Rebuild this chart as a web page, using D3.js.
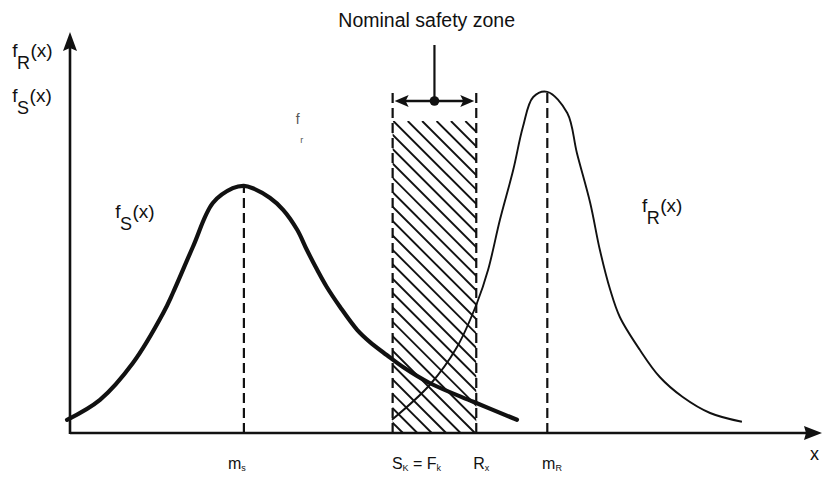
<!DOCTYPE html>
<html>
<head>
<meta charset="utf-8">
<script src="https://cdn.jsdelivr.net/npm/d3@7"></script>
<style>
  html, body { margin: 0; padding: 0; background: #fff; }
  svg { display: block; }
  text { font-family: "Liberation Sans", Arial, sans-serif; fill: #111; }
</style>
</head>
<body>
<div id="chart"></div>
<script>
// load (S) and resistance (R) densities
const loadCurve = [
  [-0.4, 0.033], [4.05, 0.083], [8.5, 0.175], [12.6, 0.30], [13.9, 0.35],
  [16.6, 0.465], [19.3, 0.575], [22.0, 0.612], [23.5, 0.618], [24.7, 0.612],
  [27.0, 0.588], [28.8, 0.558], [30.7, 0.508], [32.0, 0.458], [33.4, 0.408],
  [34.7, 0.365], [36.5, 0.315], [38.8, 0.258], [40.5, 0.228], [42.8, 0.195],
  [45.0, 0.165], [48.6, 0.125], [54.5, 0.078], [60.4, 0.033]
];
const resistCurve = [
  [43.5, 0.033], [48.6, 0.12], [52.3, 0.215], [55.0, 0.325], [56.5, 0.408],
  [58.1, 0.533], [59.9, 0.658], [61.2, 0.765], [62.6, 0.84], [64.5, 0.853],
  [67.2, 0.80], [68.5, 0.70], [70.3, 0.575], [71.6, 0.458], [73.0, 0.358],
  [74.3, 0.29], [77.0, 0.208], [79.7, 0.14], [82.8, 0.09], [86.5, 0.05],
  [90.8, 0.028]
];

// means and the nominal safety zone (Sk = Fk .. Rk)
const meanLines = [
  { x: 23.5, top: 0.62 },
  { x: 64.5, top: 0.855 }
];
const zoneEdges = [43.6, 54.9];
const zoneTop = 0.85;
const hatchTop = 0.78;
const zoneArrowY = 0.83;
const pointerTop = 0.97;

// labels: [main, subscript, tail]
const yAxisLabels = [
  { x: -7.8, y: 0.94, parts: ['f', 'R', '(x)'] },
  { x: -7.8, y: 0.8275, parts: ['f', 'S', '(x)'] }
];
const curveLabels = [
  { x: 6.1, y: 0.5375, parts: ['f', 'S', '(x)'] },
  { x: 77.3, y: 0.5525, parts: ['f', 'R', '(x)'] }
];
const xLabels = [
  { x: 21.35, parts: [['m', ''], ['s', 'sub']] },
  { x: 43.5, parts: [['S', ''], ['K', 'sub'], [' = F', ''], ['k', 'sub']] },
  { x: 54.5, parts: [['R', ''], ['x', 'sub']] },
  { x: 63.8, parts: [['m', ''], ['R', 'sub']] }
];
const zoneTitle = { x: 48.2, y: 1.015, text: 'Nominal safety zone' };

const width = 822, height = 479;
const x = d3.scaleLinear().domain([0, 100]).range([70, 810]);
const y = d3.scaleLinear().domain([0, 1]).range([433, 33]);

const svg = d3.select('#chart').append('svg')
  .attr('width', width)
  .attr('height', height);

// hatch clip
const xl = x(zoneEdges[0]), xr = x(zoneEdges[1]);
svg.append('clipPath').attr('id', 'zoneClip')
  .append('rect')
  .attr('x', xl).attr('y', y(hatchTop))
  .attr('width', xr - xl).attr('height', y(0) - y(hatchTop));

const hatchG = svg.append('g').attr('clip-path', 'url(#zoneClip)')
  .attr('stroke', '#111').attr('stroke-width', 1.9);
const spacing = 14.4;
const hH = y(0) - y(hatchTop);
const offsets = d3.range(-hH - 20, xr - xl + 20, spacing).map(c => c + 1.5);
hatchG.selectAll('line').data(offsets).join('line')
  .attr('x1', c => xl + c)
  .attr('y1', y(hatchTop))
  .attr('x2', c => xl + c + hH)
  .attr('y2', y(hatchTop) + hH);

// dashed verticals
svg.append('g').selectAll('line')
  .data(meanLines.concat(zoneEdges.map(e => ({ x: e, top: zoneTop }))))
  .join('line')
  .attr('x1', d => x(d.x)).attr('x2', d => x(d.x))
  .attr('y1', y(0)).attr('y2', d => y(d.top))
  .attr('stroke', '#111').attr('stroke-width', 2.2)
  .attr('stroke-dasharray', '10,5');

// curves
const line = d3.line()
  .x(d => x(d[0])).y(d => y(d[1]))
  .curve(d3.curveCatmullRom.alpha(0.5));

svg.append('path').datum(resistCurve)
  .attr('d', line).attr('fill', 'none')
  .attr('stroke', '#111').attr('stroke-width', 1.9);

svg.append('path').datum(loadCurve)
  .attr('d', line).attr('fill', 'none')
  .attr('stroke', '#111').attr('stroke-width', 4.2)
  .attr('stroke-linecap', 'round');

// axes with arrowheads
const x0 = x(0), y0 = y(0);
svg.append('line')
  .attr('x1', x0).attr('y1', y0).attr('x2', 812).attr('y2', y0)
  .attr('stroke', '#111').attr('stroke-width', 2.6);
svg.append('line')
  .attr('x1', x0).attr('y1', y0 + 1).attr('x2', x0).attr('y2', y(0.97))
  .attr('stroke', '#111').attr('stroke-width', 2.6);
svg.append('path')
  .attr('d', `M822,${y0} L804,${y0 - 7} L806,${y0} L804,${y0 + 7} Z`)
  .attr('fill', '#111');
svg.append('path')
  .attr('d', `M${x0},${y(1.0025)} L${x0 - 7},${y(1.0025) + 19} L${x0},${y(1.0025) + 16} L${x0 + 7},${y(1.0025) + 19} Z`)
  .attr('fill', '#111');

// safety zone double arrow + pointer
const ay = y(zoneArrowY);
const cx = (xl + xr) / 2;
svg.append('line')
  .attr('x1', xl + 8).attr('x2', xr - 8).attr('y1', ay).attr('y2', ay)
  .attr('stroke', '#111').attr('stroke-width', 2.4);
svg.append('path')
  .attr('d', `M${xl + 2},${ay} L${xl + 16},${ay - 6} L${xl + 13},${ay} L${xl + 16},${ay + 6} Z`)
  .attr('fill', '#111');
svg.append('path')
  .attr('d', `M${xr - 2},${ay} L${xr - 16},${ay - 6} L${xr - 13},${ay} L${xr - 16},${ay + 6} Z`)
  .attr('fill', '#111');
svg.append('line')
  .attr('x1', cx).attr('x2', cx).attr('y1', y(pointerTop)).attr('y2', ay)
  .attr('stroke', '#111').attr('stroke-width', 2.2);
svg.append('circle').attr('cx', cx).attr('cy', ay).attr('r', 4.8).attr('fill', '#111');

// title
svg.append('text')
  .attr('x', x(zoneTitle.x)).attr('y', y(zoneTitle.y))
  .attr('text-anchor', 'middle')
  .attr('font-size', 19.5)
  .text(zoneTitle.text);

// f_R(x) style labels
function fLabel(d) {
  const t = svg.append('text')
    .attr('x', x(d.x)).attr('y', y(d.y))
    .attr('font-size', 19);
  t.append('tspan').text(d.parts[0]);
  t.append('tspan').attr('dy', 12).attr('dx', -0.5).attr('font-size', 18).text(d.parts[1]);
  t.append('tspan').attr('dy', -12).attr('dx', 0.5).text(d.parts[2]);
}
yAxisLabels.forEach(fLabel);
curveLabels.forEach(fLabel);

// x labels
xLabels.forEach(d => {
  const t = svg.append('text')
    .attr('x', x(d.x)).attr('y', 469)
    .attr('font-size', 16);
  let down = 0;
  d.parts.forEach(p => {
    const isSub = p[1] === 'sub';
    const target = isSub ? 2 : 0;
    t.append('tspan')
      .attr('dy', target - down)
      .attr('font-size', isSub ? 9 : 16)
      .style('white-space', 'pre')
      .text(p[0]);
    down = target;
  });
});

// x axis name at the right edge
svg.append('text')
  .attr('x', 810).attr('y', 460)
  .attr('font-size', 18)
  .text('x');

// faint scan marks
svg.append('text').attr('x', x(30.5)).attr('y', y(0.7725))
  .attr('font-size', 14).style('fill', '#555').text('f');
svg.append('text').attr('x', x(31.1)).attr('y', y(0.725))
  .attr('font-size', 9).style('fill', '#555').text('r');
</script>
</body>
</html>
